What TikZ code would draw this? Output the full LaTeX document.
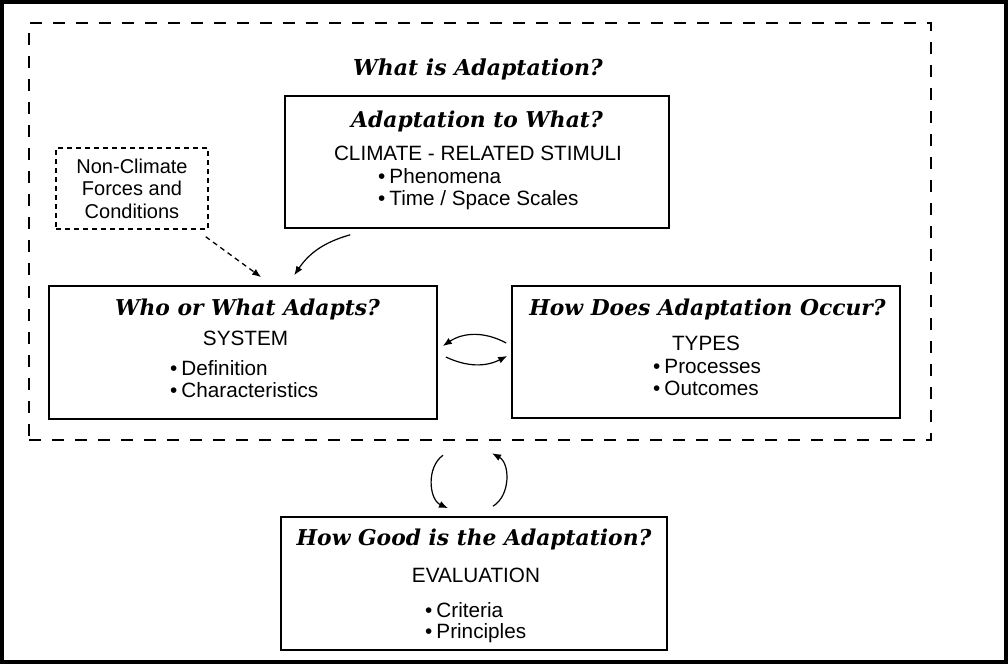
\documentclass[tikz,border=0pt]{standalone}
\usepackage{fontspec}
\setsansfont{Liberation Sans}
\newfontfamily\ttlfont{DejaVu Serif}
\usetikzlibrary{calc,arrows.meta}
\begin{document}
\begin{tikzpicture}[x=1pt,y=-1pt,
  box/.style={draw,line width=1.6pt,inner sep=0pt},
  ttl/.style={font=\fontsize{21.8}{23}\selectfont\ttlfont\bfseries\itshape,anchor=base,inner sep=0pt},
  txt/.style={font=\fontsize{20.7}{22}\selectfont\sffamily,anchor=base,inner sep=0pt},
  bul/.style={txt,anchor=base west},
  arr/.style={-{Latex[length=9pt,width=7pt]},line width=1.2pt}
]
\useasboundingbox (0,0) rectangle (1008,664);
\draw[line width=3.5pt] (1.75,1.75) rectangle (1006,662);

\node[draw,dash pattern=on 12pt off 11pt,line width=2.5pt,minimum width=902pt,minimum height=417pt,inner sep=0pt] (outer) at (480,231.5) {};
\node[ttl,font=\fontsize{22}{24}\selectfont\ttlfont\bfseries\itshape] (main) at (478,75) {What is Adaptation?};

% top box
\node[box,minimum width=384pt,minimum height=132pt] (top) at (477,162) {};
\node[ttl] (topt) at (477,127) {Adaptation to What?};
\node[txt] (topc) at (478,160) {CLIMATE - RELATED STIMULI};
\node[bul] (topb1) at (378,183) {\textbullet\hspace{4pt}Phenomena};
\node[bul] (topb2) at (378,205) {\textbullet\hspace{4pt}Time / Space Scales};

% non-climate box
\node[draw,line width=1.5pt,dash pattern=on 5pt off 4pt,minimum width=152pt,minimum height=81pt,inner sep=0pt] (nc) at (132,188.5) {};
\node[txt,font=\fontsize{20}{22}\selectfont\sffamily] (nct1) at (132,173) {Non-Climate};
\node[txt,font=\fontsize{20}{22}\selectfont\sffamily] (nct2) at (132,195) {Forces and};
\node[txt,font=\fontsize{20}{22}\selectfont\sffamily] (nct3) at (132,218) {Conditions};

% left box
\node[box,minimum width=388pt,minimum height=133pt] (left) at (243,352.5) {};
\node[ttl] (leftt) at (247.5,315) {Who or What Adapts?};
\node[txt] (leftc) at (245.5,345) {SYSTEM};
\node[bul] (leftb1) at (170,375) {\textbullet\hspace{4pt}Definition};
\node[bul] (leftb2) at (170,397) {\textbullet\hspace{4pt}Characteristics};

% right box
\node[box,minimum width=388pt,minimum height=132pt] (right) at (706,352) {};
\node[ttl] (rightt) at (707.5,315) {How Does Adaptation Occur?};
\node[txt] (rightc) at (706,350) {TYPES};
\node[bul] (rightb1) at (653,373) {\textbullet\hspace{4pt}Processes};
\node[bul] (rightb2) at (653,395) {\textbullet\hspace{4pt}Outcomes};

% bottom box
\node[box,minimum width=386pt,minimum height=133pt] (bottom) at (474,583.5) {};
\node[ttl] (bott) at (474,545) {How Good is the Adaptation?};
\node[txt] (botc) at (476,582) {EVALUATION};
\node[bul] (botb1) at (425,617) {\textbullet\hspace{4pt}Criteria};
\node[bul] (botb2) at (425,638) {\textbullet\hspace{4pt}Principles};

% connectors
\coordinate (n1) at ($(nc.south east)+(-3,7)$);
\coordinate (n2) at ($(left.north west)+(213,-8)$);
\draw[arr,line width=1.3pt,dash pattern=on 5pt off 4pt] (n1) -- (n2);

\coordinate (s1) at ($(top.south west)+(66,6)$);
\coordinate (s2) at ($(left.north west)+(246,-10)$);
\draw[arr] (s1) to[bend right=20] (s2);

\coordinate (h1) at ($(right.west)+(-5,-9)$);
\coordinate (h2) at ($(left.east)+(5,-6.5)$);
\draw[arr] (h1) to[bend right=31] (h2);
\coordinate (h3) at ($(left.east)+(8,4.5)$);
\coordinate (h4) at ($(right.west)+(-4,4)$);
\draw[arr] (h3) to[bend right=26] (h4);

\coordinate (v1) at ($(outer.south)+(-37,14)$);
\coordinate (v2) at ($(bottom.north)+(-26,-8)$);
\draw[arr] (v1) to[bend right=60] (v2);
\coordinate (v3) at ($(bottom.north)+(19,-10)$);
\coordinate (v4) at ($(outer.south)+(12,12)$);
\draw[arr] (v3) to[bend right=60] (v4);
\end{tikzpicture}
\end{document}
